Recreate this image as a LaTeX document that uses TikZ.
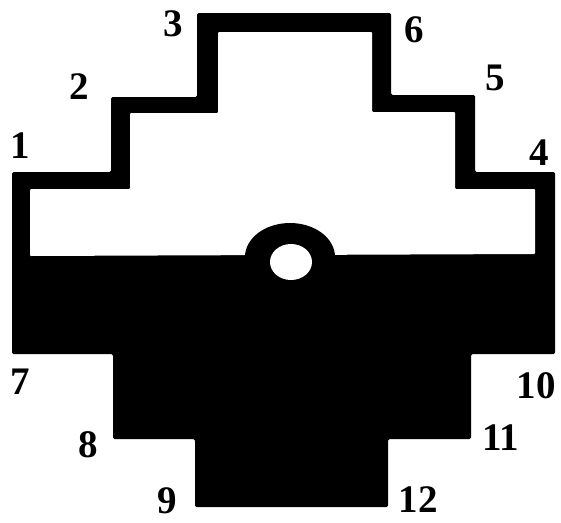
\documentclass[tikz,border=0pt]{standalone}
\usepackage{fontspec}
\setmainfont{Liberation Serif}
\begin{document}
\begin{tikzpicture}[x=1pt,y=-1pt,
  lab/.style={font=\fontsize{39}{39}\selectfont\bfseries, inner sep=0pt, text=black}]
\useasboundingbox (0,0) rectangle (561,522);
% outer black silhouette
\fill[black, rounded corners=1.5pt]
  (12,354) -- (12,172) -- (111,172) -- (111,97) -- (197,97) -- (197,13)
  -- (391,13) -- (391,95) -- (475,95) -- (475,172) -- (555,172)
  -- (555,354) -- (471,354) -- (471,439) -- (388,439) -- (388,507)
  -- (195,507) -- (195,439) -- (113,439) -- (113,354) -- cycle;
% white interior of the upper part
\fill[white, rounded corners=1pt]
  (30,256) -- (30,189) -- (130,189) -- (130,113) -- (218,113) -- (218,32)
  -- (372,32) -- (372,112) -- (455,112) -- (455,189) -- (535,189)
  -- (535,254) -- cycle;
% dome and hole
\fill[black] (245,257) arc[start angle=180, end angle=0, x radius=45, y radius=-34] -- cycle;
\fill[white] (291,262) ellipse[x radius=21, y radius=18];
% labels
\node[lab] (n1) at (20,146) {1};
\node[lab] (n2) at (79,87) {2};
\node[lab] (n3) at (173,24) {3};
\node[lab] (n4) at (539,153) {4};
\node[lab] (n5) at (495,78) {5};
\node[lab] (n6) at (414,30) {6};
\node[lab] (n7) at (20,382) {7};
\node[lab] (n8) at (88,445) {8};
\node[lab] (n9) at (167,501) {9};
\node[lab] (n10) at (536,386) {10};
\node[lab] (n11) at (501,438) {11};
\node[lab] (n12) at (418,500) {12};
\end{tikzpicture}
\end{document}
